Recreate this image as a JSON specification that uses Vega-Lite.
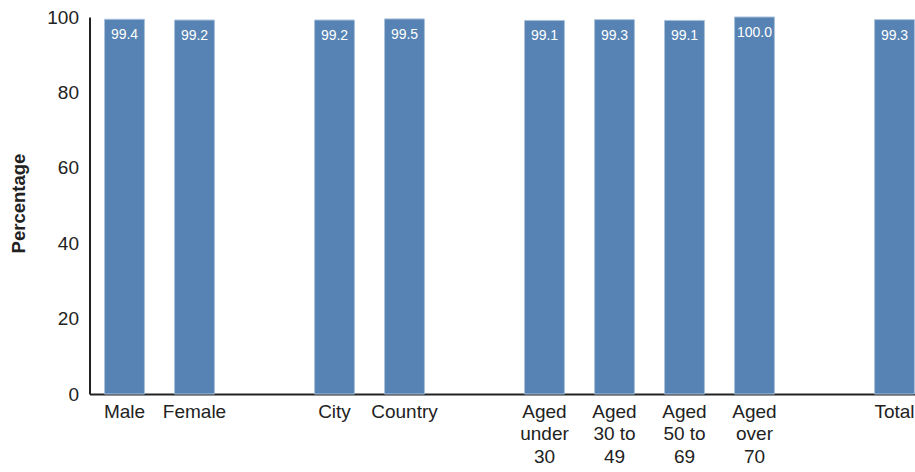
{
  "$schema": "https://vega.github.io/schema/vega-lite/v6.json",
  "autosize": "none",
  "width": 825.5,
  "height": 377,
  "padding": {"left": 89.5, "top": 17, "right": 0, "bottom": 78},
  "background": "white",
  "data": {
    "values": [
      {"group": "Male", "value": 99.4, "label": "99.4"},
      {"group": "Female", "value": 99.2, "label": "99.2"},
      {"group": "City", "value": 99.2, "label": "99.2"},
      {"group": "Country", "value": 99.5, "label": "99.5"},
      {"group": "Aged|under|30", "value": 99.1, "label": "99.1"},
      {"group": "Aged|30 to|49", "value": 99.3, "label": "99.3"},
      {"group": "Aged|50 to|69", "value": 99.1, "label": "99.1"},
      {"group": "Aged|over|70", "value": 100.0, "label": "100.0"},
      {"group": "Total", "value": 99.3, "label": "99.3"}
    ]
  },
  "config": {
    "view": {"stroke": null},
    "font": "Liberation Sans"
  },
  "encoding": {
    "x": {
      "field": "group",
      "type": "nominal",
      "sort": null,
      "scale": {
        "domain": ["Male", "Female", " ", "City", "Country", "  ", "Aged|under|30", "Aged|30 to|49", "Aged|50 to|69", "Aged|over|70", "   ", "Total"],
        "range": [0, 840],
        "paddingInner": 0.43,
        "paddingOuter": 0.215
      },
      "axis": {
        "title": null,
        "labelAngle": 0,
        "labelExpr": "split(datum.value, '|')",
        "labelFont": "Liberation Sans",
        "labelFontSize": 19,
        "labelColor": "#222222",
        "labelLineHeight": 22.5,
        "labelBaseline": "top",
        "labelPadding": 8,
        "ticks": false,
        "grid": false,
        "domainColor": "#222222",
        "domainWidth": 2
      }
    },
    "y": {
      "field": "value",
      "type": "quantitative",
      "scale": {"domain": [0, 100]},
      "axis": {
        "title": "Percentage",
        "titleFont": "Liberation Sans",
        "titleFontSize": 18.5,
        "titleFontWeight": "bold",
        "titleColor": "#222222",
        "titleX": -71,
        "titleY": 186,
        "titleAngle": -90,
        "titleAlign": "center",
        "titleBaseline": "middle",
        "values": [0, 20, 40, 60, 80, 100],
        "labelFont": "Liberation Sans",
        "labelFontSize": 19,
        "labelColor": "#222222",
        "labelPadding": 11,
        "ticks": false,
        "grid": false,
        "domainColor": "#222222",
        "domainWidth": 2
      }
    }
  },
  "layer": [
    {
      "mark": {"type": "bar", "color": "#5683b3", "stroke": "#a9c1dc", "strokeWidth": 1}
    },
    {
      "mark": {"type": "text", "color": "white", "fontSize": 14, "baseline": "top", "dy": 9, "font": "Liberation Sans"},
      "encoding": {"text": {"field": "label"}}
    }
  ]
}
